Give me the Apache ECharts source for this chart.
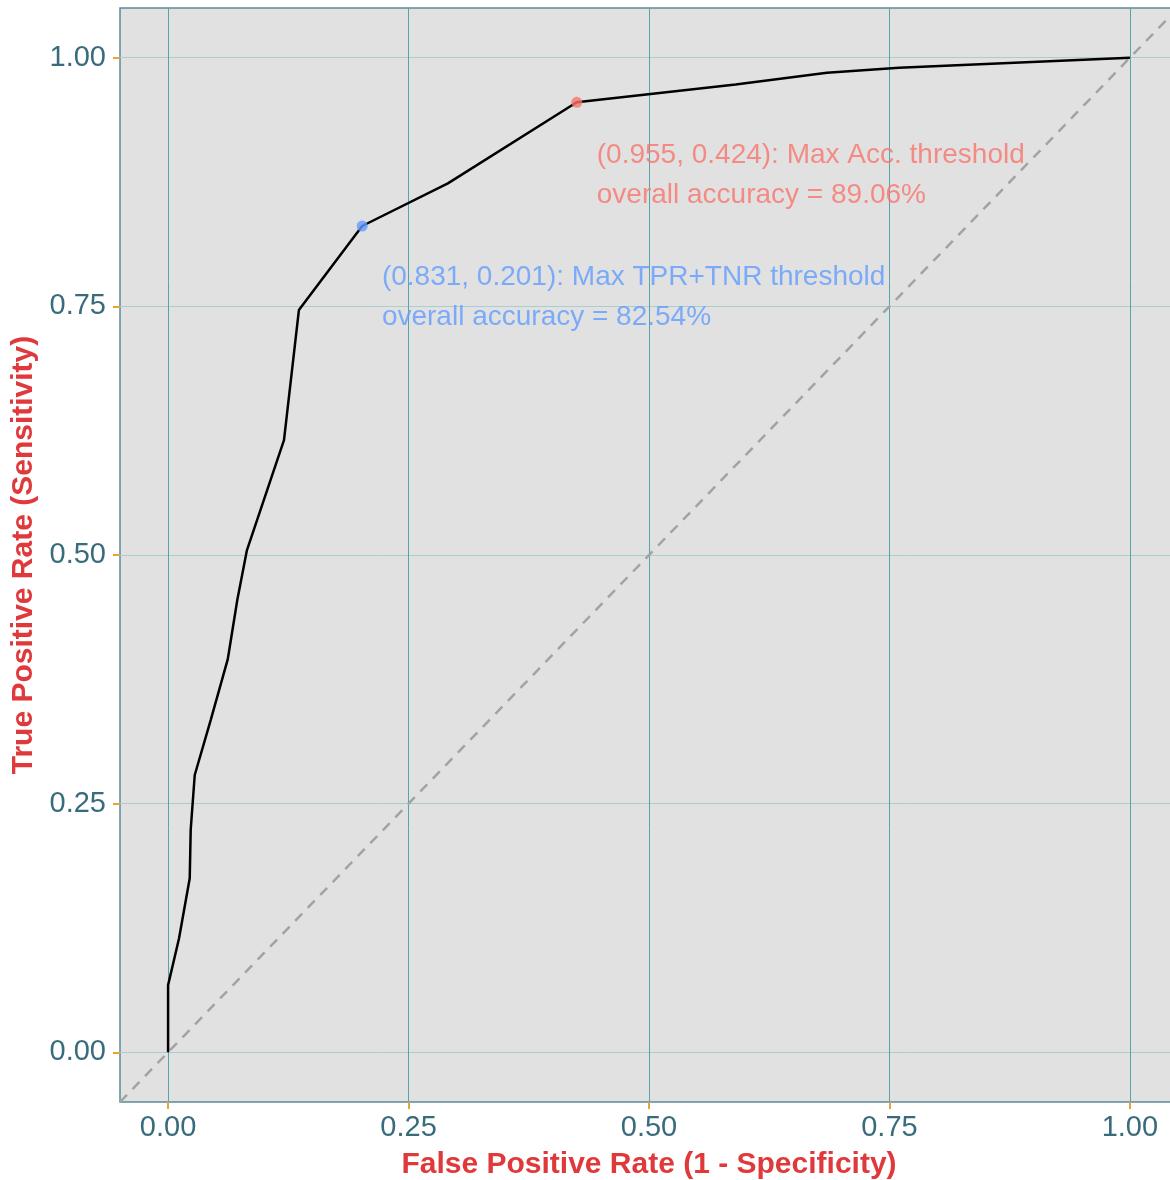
<!DOCTYPE html>
<html>
<head>
<meta charset="utf-8">
<title>ROC</title>
<script src="https://cdn.jsdelivr.net/npm/echarts@6/dist/echarts.min.js"></script>
<style>
    html, body { margin: 0; padding: 0; background: #fff; }
    #chart { width: 1170px; height: 1180px; }
</style>
</head>
<body>
<div id="chart"></div>
<script>
// ROC curve vertices (false positive rate, true positive rate)
var fprValues = [0, 0, 0.0114, 0.0225, 0.0235, 0.0277, 0.0443, 0.062, 0.072, 0.082, 0.1205, 0.136, 0.2018, 0.2909, 0.4249, 0.59, 0.685, 0.76, 0.88, 1];
var tprValues = [0, 0.0675, 0.1146, 0.175, 0.2235, 0.2788, 0.334, 0.395, 0.455, 0.505, 0.6156, 0.7463, 0.8308, 0.8737, 0.9552, 0.973, 0.985, 0.990, 0.995, 1];

// chosen thresholds
var maxAccPoint = [0.4249, 0.9552];
var maxSumPoint = [0.2018, 0.8308];
var maxAccText = ['(0.955, 0.424): Max Acc. threshold', 'overall accuracy = 89.06%'];
var maxSumText = ['(0.831, 0.201): Max TPR+TNR threshold', 'overall accuracy = 82.54%'];
// where the text blocks sit (left edge, vertical middle)
var maxAccTextAt = [0.4457, 0.882];
var maxSumTextAt = [0.2223, 0.7596];

var tickValues = [0, 0.25, 0.5, 0.75, 1];
var diagonal = [[-0.05, -0.05], [1.05, 1.05]];

var fontFamily = '"Liberation Sans", Arial, sans-serif';
var labelColor = '#386B7B';
var titleColor = '#E0393B';
var tickColor = '#E8A33C';

var rocData = fprValues.map(function (x, i) {
    return [x, tprValues[i]];
});

function axisOf(name, gap, vLine) {
    return {
        type: 'value',
        min: -0.05,
        max: 1.05,
        name: name,
        nameLocation: 'middle',
        nameGap: gap,
        nameTextStyle: {
            color: titleColor,
            fontSize: 30,
            fontWeight: 'bold',
            fontFamily: fontFamily
        },
        axisLine: { show: false, onZero: false },
        axisTick: {
            show: true,
            customValues: tickValues,
            length: 7,
            lineStyle: { color: tickColor, width: 2 }
        },
        axisLabel: {
            customValues: tickValues,
            color: labelColor,
            fontSize: 29,
            fontFamily: fontFamily,
            margin: vLine ? 11 : 14,
            formatter: function (v) {
                return v.toFixed(2);
            }
        },
        splitLine: {
            show: true,
            lineStyle: { color: vLine ? '#56A5AA' : '#A8CED0', width: 1 }
        }
    };
}

function textSeries(at, lines, color) {
    return {
        type: 'scatter',
        silent: true,
        symbolSize: 0,
        data: [at],
        z: 4,
        label: {
            show: true,
            position: 'right',
            distance: 0,
            formatter: lines.join('\n'),
            color: color,
            fontSize: 28,
            lineHeight: 40,
            fontFamily: fontFamily,
            align: 'left'
        }
    };
}

var chart = echarts.init(document.getElementById('chart'));
var option = {
    animation: false,
    grid: {
        left: 120,
        top: 8,
        width: 1058,
        height: 1094,
        containLabel: false,
        outerBoundsMode: 'none',
        show: true,
        backgroundColor: '#E1E1E1',
        borderColor: '#5B8B97',
        borderWidth: 1.5
    },
    xAxis: axisOf('False Positive Rate (1 - Specificity)', 48, true),
    yAxis: axisOf('True Positive Rate (Sensitivity)', 80, false),
    series: [
        {
            // chance line
            type: 'line',
            silent: true,
            data: diagonal,
            symbol: 'none',
            z: 2,
            lineStyle: { color: '#A3A3A3', width: 2.5, type: [10, 8] }
        },
        {
            type: 'line',
            data: rocData,
            symbol: 'none',
            z: 3,
            lineStyle: { color: '#000', width: 2.5 }
        },
        {
            type: 'scatter',
            data: [maxAccPoint],
            symbolSize: 11,
            z: 5,
            itemStyle: { color: '#F8766D' }
        },
        {
            type: 'scatter',
            data: [maxSumPoint],
            symbolSize: 11,
            z: 5,
            itemStyle: { color: '#619CFF' }
        },
        textSeries(maxAccTextAt, maxAccText, '#F8766D'),
        textSeries(maxSumTextAt, maxSumText, '#619CFF')
    ]
};
chart.setOption(option);
</script>
</body>
</html>
